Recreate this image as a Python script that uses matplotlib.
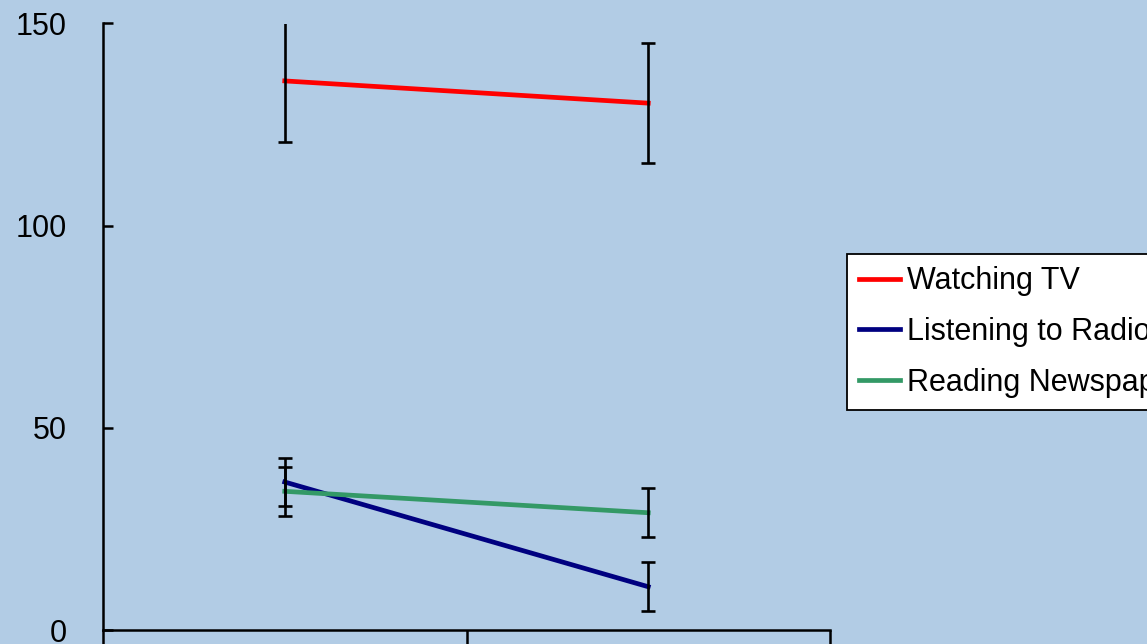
import numpy as np
import matplotlib
matplotlib.use("Agg")
import matplotlib.pyplot as plt

plt.rcParams['font.family'] = ['Liberation Sans', 'DejaVu Sans']

# data
groups = [0.5, 1.5]
series = ["Watching TV", "Listening to Radio", "Reading Newspapers"]
tv = [135.8, 130.3]
tv_err = [15, 14.8]
radio = [36.6, 10.7]
radio_err = [6, 6]
news = [34.3, 29.0]
news_err = [6, 6]
colors = ["#FF0000", "#000080", "#339966"]
yticks = [0, 50, 100, 150]

bg = "#B2CCE5"
fig = plt.figure(figsize=(11.47, 6.44), dpi=100, facecolor=bg)
ax = fig.add_axes([103/1147, 14/644, (830-103)/1147, (630-23.5)/644])
ax.set_facecolor(bg)

vals = [tv, radio, news]
errs = [tv_err, radio_err, news_err]
for name, v, c in zip(series, vals, colors):
    ax.plot(groups, v, '-', color=c, lw=3.4, label=name, zorder=2)
for v, e in zip(vals, errs):
    ax.errorbar(groups, v, yerr=e, fmt='none', ecolor='black',
                elinewidth=1.9, capsize=5, capthick=1.9, zorder=3)

ax.set_xlim(0, 2)
ax.set_ylim(0, 150)
ax.set_yticks(yticks)
ax.set_yticklabels([str(t) for t in yticks], fontsize=22)
ax.set_xticks([0, 1, 2])
ax.set_xticklabels(['', '', ''])
ax.tick_params(axis='y', direction='in', length=7, width=1.8, pad=26)
ax.tick_params(axis='x', direction='out', length=20, width=1.8)
for s in ['top', 'right']:
    ax.spines[s].set_visible(False)
for s in ['left', 'bottom']:
    ax.spines[s].set_linewidth(1.8)

leg = fig.legend(loc='upper left', bbox_to_anchor=(847/1147, 1-254/644),
                 fontsize=22, frameon=True, fancybox=False, edgecolor='black',
                 facecolor='white', framealpha=1, handlelength=1.35,
                 handletextpad=0.22, labelspacing=0.68, borderpad=0.4,
                 borderaxespad=0)
leg.get_frame().set_linewidth(1.3)
for l in leg.get_lines():
    l.set_linewidth(3.4)

fig.savefig("out.png", dpi=100, facecolor=bg)
